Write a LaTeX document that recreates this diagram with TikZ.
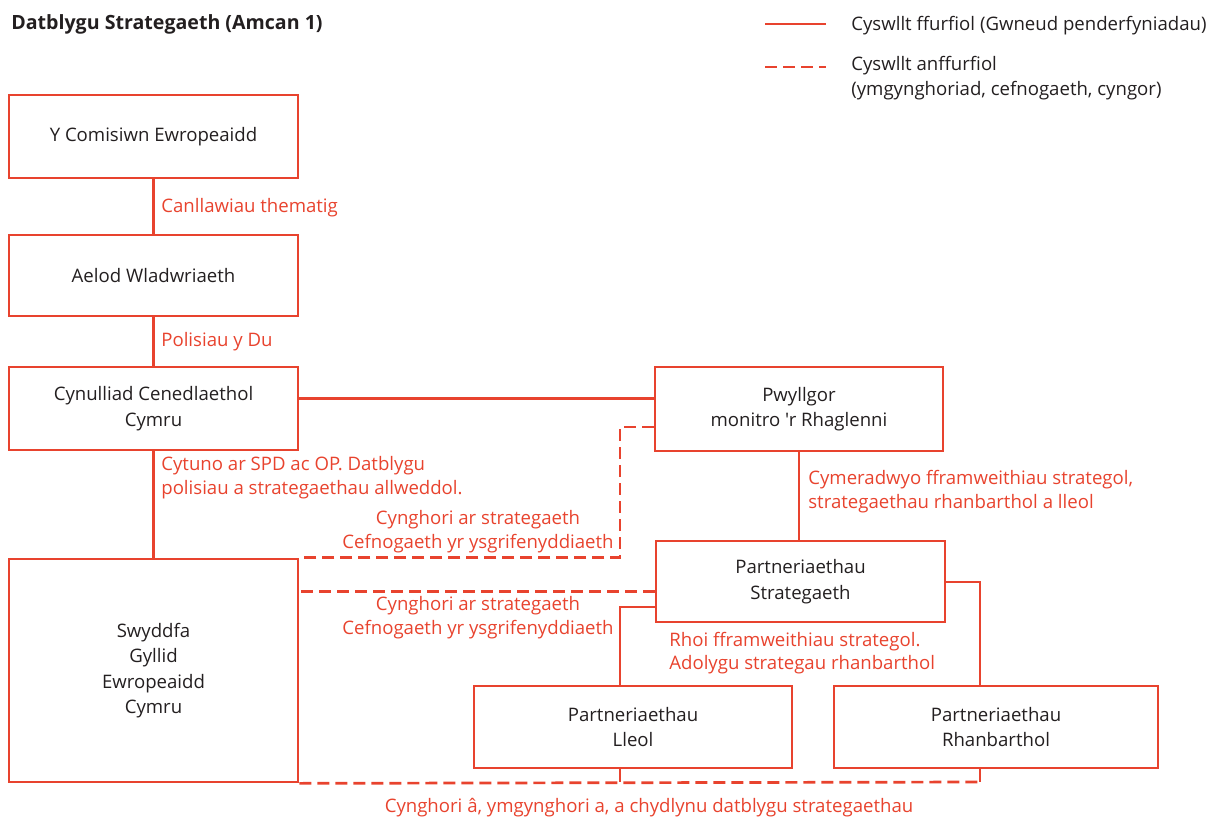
\documentclass[tikz,border=0pt]{standalone}
\usepackage{fontspec}
\setmainfont{Open Sans}[Ligatures=TeXOff]
\definecolor{rouge}{HTML}{E8432E}
\definecolor{texte}{HTML}{231F20}

\begin{document}
\begin{tikzpicture}[x=1pt, y=-1pt, line width=2.7pt]
	\tikzset{boite/.style={draw=rouge, rectangle, align=center, inner sep=0pt, text=texte, font=\fontsize{18.6}{25.5}\selectfont},
	lien/.style={draw=rouge},
	pointille/.style={draw=rouge, dash pattern=on 12pt off 6pt},
	etiquette/.style={text=rouge, inner sep=0pt, font=\fontsize{18.6}{23.5}\selectfont}};

	\useasboundingbox (0,0) rectangle (1215,821);

	\node[anchor=west, inner sep=0pt, text=texte, font=\bfseries\fontsize{19.6}{22}\selectfont] (titre) at (10,24) {Datblygu Strategaeth (Amcan 1)};

	\foreach \nom/\x/\y/\l/\h/\txt in {com/153.5/136.5/289/83/{Y Comisiwn Ewropeaidd},
		aelod/153.5/275.5/289/81/{Aelod Wladwriaeth},
		cyn/153.5/408.5/289/83/{Cynulliad Cenedlaethol\\Cymru},
		swy/153.5/670.5/289/223/{Swyddfa\\Gyllid\\Ewropeaidd\\Cymru},
		pwy/799/409/288/84/{Pwyllgor\\monitro 'r Rhaglenni},
		strat/800.5/581.5/289/81/{Partneriaethau\\Strategaeth},
		lleol/633/727/318/82/{Partneriaethau\\Lleol},
		rhan/996/727/324/82/{Partneriaethau\\Rhanbarthol}}{
		\node[boite, minimum width=\l pt, minimum height=\h pt] (\nom) at (\x,\y) {\txt};
	}

	\coordinate (gauche) at (620,607);
	\coordinate (droite) at (980,582);
	\coordinate (bas) at (980,782);

	\draw[lien] (com) -- (aelod);
	\draw[lien] (aelod) -- (cyn);
	\draw[lien] (cyn) -- (swy);
	\draw[lien] ([yshift=10pt]cyn.east) -- ([yshift=10pt]cyn.east -| pwy.west);
	\draw[lien] (pwy.south) -- (pwy.south |- strat.north);
	\draw[lien] (strat.west |- gauche) -- (gauche) -- (gauche |- lleol.north);
	\draw[lien] (strat.east |- droite) -- (droite) -- (droite |- rhan.north);
	\draw[lien] (gauche |- lleol.south) -- (gauche |- bas);
	\draw[lien] (droite |- rhan.south) -- (bas);

	\draw[pointille] ([yshift=-18pt]pwy.west) -| (swy.north east -| gauche) -- (swy.north east);
	\draw[pointille] ([yshift=-10pt]strat.west) -- ([yshift=-10pt]strat.west -| swy.east);
	\draw[pointille] (swy.south east) -- (bas);

	\node[etiquette, anchor=west] (l-com) at (160,208) {Canllawiau thematig};
	\node[etiquette, anchor=west] (l-aelod) at (160,342) {Polisiau y Du};
	\node[etiquette, anchor=west, align=left] (l-cyn) at (160,477.5) {Cytuno ar SPD ac OP. Datblygu\\polisiau a strategaethau allweddol.};
	\node[etiquette, align=center] (l-pwy) at (478,531.5) {Cynghori ar strategaeth\\Cefnogaeth yr ysgrifenyddiaeth};
	\node[etiquette, align=center] (l-swy) at (478,617.5) {Cynghori ar strategaeth\\Cefnogaeth yr ysgrifenyddiaeth};
	\node[etiquette, anchor=west, align=left] (l-strat) at (807,491.5) {Cymeradwyo fframweithiau strategol,\\strategaethau rhanbarthol a lleol};
	\node[etiquette, anchor=west, align=left] (l-part) at (668,653) {Rhoi fframweithiau strategol.\\Adolygu strategau rhanbarthol};
	\node[etiquette] (l-bas) at (649,808) {Cynghori â, ymgynghori a, a chydlynu datblygu strategaethau};

	% allwedd
	\coordinate (leg1a) at (765,24);
	\coordinate (leg1b) at (826,24);
	\coordinate (leg2a) at (765,67);
	\coordinate (leg2b) at (826,67);
	\draw[lien] (leg1a) -- (leg1b);
	\draw[pointille] (leg2a) -- (leg2b);
	\node[anchor=west, inner sep=0pt, text=texte, font=\fontsize{18.6}{25}\selectfont] (leg1) at (850,26) {Cyswllt ffurfiol (Gwneud penderfyniadau)};
	\node[anchor=west, align=left, inner sep=0pt, text=texte, font=\fontsize{18.6}{25}\selectfont] (leg2) at (850,78.5) {Cyswllt anffurfiol\\(ymgynghoriad, cefnogaeth, cyngor)};
\end{tikzpicture}
\end{document}
